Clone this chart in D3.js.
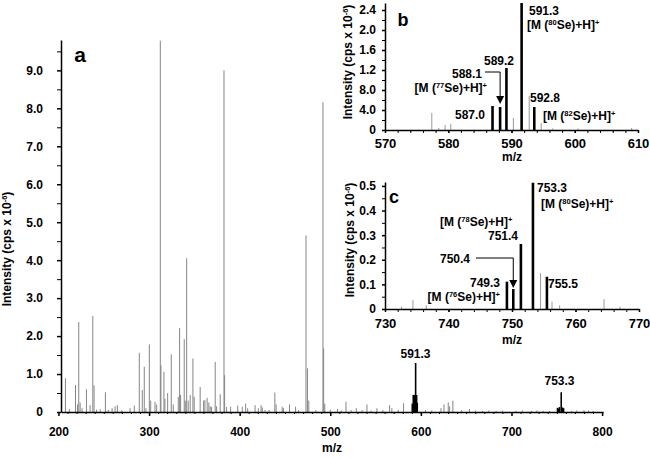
<!DOCTYPE html>
<html>
<head>
<meta charset="utf-8">
<script src="https://cdn.jsdelivr.net/npm/d3@7"></script>
<style>
  body { margin: 0; background: #fff; }
  svg { display: block; font-family: "Liberation Sans", Arial, sans-serif; font-weight: bold; }
</style>
</head>
<body>
<svg id="chart"></svg>
<script>
// ---- data: [m/z, intensity (cps x 10^-6)] ----
// panel a: full spectrum, grey peaks
const mainPeaks = [
  [207.7, 0.89], [212, 0.08], [218.8, 0.71], [221.0, 0.2], [222.4, 2.37], [223.9, 0.25],
  [226, 0.1], [230.9, 0.6], [234.9, 0.18], [237.9, 2.53], [239.3, 0.7], [242, 0.06],
  [246, 0.07], [251.8, 0.52], [255, 0.06], [259.2, 0.1], [262.5, 0.15], [265, 0.18],
  [270, 0.05], [279, 0.1], [283.7, 0.17], [289.2, 1.56], [292.5, 0.58], [294.7, 1.19],
  [296.6, 0.1], [300.3, 1.78], [301.8, 0.3], [306.5, 0.27], [308.4, 0.2], [312.4, 9.78],
  [313.1, 1.23], [316.4, 1.06], [317.5, 0.35], [320.5, 0.5], [324.5, 1.52], [326.7, 0.2],
  [332.2, 0.4], [333.7, 2.21], [334.8, 0.45], [338.8, 1.92], [339.9, 0.3], [341.5, 4.05],
  [343.2, 0.3], [345.4, 0.45], [348.4, 1.41], [349.8, 0.4], [356.4, 0.66], [360.2, 0.3],
  [361.6, 0.32], [364.1, 0.37], [366, 0.25], [367.4, 0.15], [369, 0.13], [373, 1.32],
  [374.5, 0.15], [378.5, 0.47], [382.7, 9.0], [383.4, 0.97], [385.6, 0.13], [390, 0.14],
  [397.8, 0.17], [402.9, 0.14], [406.6, 0.22], [408.8, 0.1], [417, 0.18], [420.6, 0.1],
  [423.6, 0.18], [425, 0.12], [428, 0.05], [432.5, 0.05], [438.8, 0.51], [440.2, 0.2],
  [446.9, 0.14], [448.3, 0.1], [455, 0.2], [461.7, 0.14], [465, 0.05], [473.2, 4.65],
  [474.8, 1.15], [476.3, 0.3], [484, 0.05], [491.9, 8.16], [492.7, 1.67], [493.9, 0.22],
  [500, 0.06], [508, 0.08], [512, 0.04], [517.3, 0.27], [523, 0.05], [528.7, 0.1],
  [535, 0.05], [540.5, 0.2], [545, 0.04], [551.5, 0.1], [558, 0.05], [565.5, 0.18],
  [568, 0.1], [575, 0.06], [580.9, 0.23], [605, 0.05], [612, 0.04], [622.2, 0.1],
  [625.5, 0.2], [630.2, 0.25], [631.7, 0.15], [635.3, 0.3], [645, 0.05], [653.6, 0.08],
  [660, 0.04], [668, 0.03], [675, 0.04], [683, 0.03], [690, 0.04], [705, 0.03],
  [712, 0.04], [722, 0.03], [728, 0.04], [735, 0.03], [742, 0.03], [766, 0.03],
  [772, 0.04], [780, 0.05], [785, 0.04], [790, 0.03]
];
// panel a: Se isotope clusters (black)
const mainCluster591 = [[590.5, 0.22], [591.6, 0.45], [592.7, 0.45], [594.2, 1.29], [595.3, 0.45], [596.0, 0.24]];
const mainCluster753 = [[750.8, 0.11], [752.0, 0.09], [753.0, 0.13], [754.9, 0.52], [756.3, 0.12], [757.5, 0.1]];
const mainXTicks = [200, 300, 400, 500, 600, 700, 800];
const mainYTicks = [0, 1, 2, 3, 4, 5, 6, 7, 8, 9];

// panel b: zoom around 591
const bGrey = [[577.4, 0.34], [578.5, 0.04], [579.5, 0.1], [580.4, 0.12], [590.3, 0.24], [592.8, 0.68], [594.7, 0.14], [596.5, 0.03], [600.5, 0.03], [609, 0.04]];
const bBlack = [[587.0, 0.48], [588.2, 0.46], [589.2, 1.24], [591.6, 2.54], [593.6, 0.46]];
const bXTicks = [570, 580, 590, 600, 610];
const bYTicks = [0, 0.4, 0.8, 1.2, 1.6, 2.0, 2.4];
const bYTickLabels = ["0", "4.0", "8.0", "1.2", "1.6", "2.0", "2.4"];

// panel c: zoom around 753
const cGrey = [[732.6, 0.01], [734.4, 0.037], [736.5, 0.015], [754.5, 0.146], [756.3, 0.03], [757.5, 0.015], [764.5, 0.04], [767, 0.01]];
const cBlack = [[749.2, 0.111], [750.2, 0.081], [751.4, 0.264], [753.3, 0.513], [755.5, 0.131]];
const cXTicks = [730, 740, 750, 760, 770];
const cYTicks = [0, 0.1, 0.2, 0.3, 0.4, 0.5];

const width = 650, height = 458;
const svg = d3.select("#chart").attr("width", width).attr("height", height);

// scales
const xa = d3.scaleLinear().domain([202.8, 801]).range([61, 603]);
const ya = d3.scaleLinear().domain([0, 9.8]).range([412, 40]);
const xb = d3.scaleLinear().domain([570, 610]).range([385, 638]);
const yb = d3.scaleLinear().domain([0, 2.54]).range([130, 3]);
const xc = d3.scaleLinear().domain([730, 770]).range([385, 639]);
const yc = d3.scaleLinear().domain([0, 0.516]).range([309, 182]);

function stems(data, x, y, color, w) {
  svg.append("g").selectAll("line").data(data).enter().append("line")
    .attr("x1", d => x(d[0])).attr("x2", d => x(d[0]))
    .attr("y1", y(0)).attr("y2", d => y(d[1]))
    .attr("stroke", color).attr("stroke-width", w);
}

function styleAxis(g, size) {
  g.attr("font-family", null).attr("font-size", size);
  g.selectAll("path, line").attr("stroke", "#000").attr("stroke-width", 1.5);
  g.selectAll("text").attr("fill", "#000");
}

function minorTicks(axis, y0, vals, len, isY) {
  const g = svg.append("g").attr("transform", isY ? `translate(${y0},0)` : `translate(0,${y0})`)
    .call(axis.tickValues(vals).tickSize(len).tickFormat(""));
  g.select(".domain").remove();
  g.selectAll("line").attr("stroke", "#000").attr("stroke-width", 1);
}

// ---- panel a ----
stems(mainPeaks, xa, ya, "#858585", 1);
stems(mainCluster591, xa, ya, "#000", 1.6);
stems(mainCluster753, xa, ya, "#000", 1.6);

minorTicks(d3.axisBottom(xa), 412, d3.range(210, 801, 10), 2, false);
minorTicks(d3.axisLeft(ya), 61, d3.range(0.5, 9.8, 1), 4, true);
svg.append("g").attr("transform", "translate(0,412)")
  .call(d3.axisBottom(xa).tickValues(mainXTicks).tickSize(4).tickSizeOuter(0).tickPadding(11.5))
  .call(g => styleAxis(g, 12));
svg.append("g").attr("transform", "translate(61,0)")
  .call(d3.axisLeft(ya).tickValues(mainYTicks).tickSize(4).tickSizeOuter(0).tickPadding(14)
    .tickFormat(d => d === 0 ? "0" : d.toFixed(1)))
  .call(g => styleAxis(g, 12));

// ---- panel b ----
stems(bGrey, xb, yb, "#999", 1);
stems(bBlack, xb, yb, "#000", 2.6);
minorTicks(d3.axisBottom(xb), 130, d3.range(572, 610, 2), 3, false);
minorTicks(d3.axisLeft(yb), 385, [0.2, 0.6, 1.0, 1.4, 1.8, 2.2], 3, true);
svg.append("g").attr("transform", "translate(0,130)")
  .call(d3.axisBottom(xb).tickValues(bXTicks).tickSize(3).tickSizeOuter(0).tickPadding(6))
  .call(g => styleAxis(g, 13));
svg.append("g").attr("transform", "translate(385,0)")
  .call(d3.axisLeft(yb).tickValues(bYTicks).tickSize(3).tickSizeOuter(0).tickPadding(6)
    .tickFormat((d, i) => bYTickLabels[i]))
  .call(g => styleAxis(g, 12));

// ---- panel c ----
stems(cGrey, xc, yc, "#999", 1);
stems(cBlack, xc, yc, "#000", 2.6);
minorTicks(d3.axisBottom(xc), 309, d3.range(732, 770, 2), 3, false);
minorTicks(d3.axisLeft(yc), 385, [0.05, 0.15, 0.25, 0.35, 0.45], 3, true);
svg.append("g").attr("transform", "translate(0,309)")
  .call(d3.axisBottom(xc).tickValues(cXTicks).tickSize(3).tickSizeOuter(0).tickPadding(7))
  .call(g => styleAxis(g, 13));
svg.append("g").attr("transform", "translate(385,0)")
  .call(d3.axisLeft(yc).tickValues(cYTicks).tickSize(3).tickSizeOuter(0).tickPadding(6)
    .tickFormat(d => d === 0 ? "0" : d.toFixed(1)))
  .call(g => styleAxis(g, 12));

// ---- text ----
function label(x, y, str, size, anchor) {
  return svg.append("text").attr("x", x).attr("y", y)
    .attr("font-size", size).attr("text-anchor", anchor || "start").text(str);
}

// "[M (xxSe)+H]+" with superscripts
function ionLabel(x, y, mass, anchor) {
  const t = svg.append("text").attr("x", x).attr("y", y)
    .attr("font-size", 12).attr("text-anchor", anchor || "start");
  t.append("tspan").text("[M (");
  t.append("tspan").attr("font-size", 7.5).attr("dy", -4).text(mass);
  t.append("tspan").attr("dy", 4).text("Se)+H]");
  t.append("tspan").attr("font-size", 7.5).attr("dy", -4).text("+");
}

function yTitle(x, y) {
  const t = svg.append("text").attr("transform", `translate(${x},${y}) rotate(-90)`)
    .attr("font-size", 12).attr("text-anchor", "middle");
  t.append("tspan").text("Intensity (cps x 10");
  t.append("tspan").attr("font-size", 7.5).attr("dy", -4).text("-6");
  t.append("tspan").attr("dy", 4).text(")");
}

yTitle(11, 249);
yTitle(352, 62);
yTitle(354, 240);

label(332, 452, "m/z", 12, "middle");
label(512, 161, "m/z", 12, "middle");
label(512, 344, "m/z", 12, "middle");

label(80, 62, "a", 21, "middle");
label(403, 26, "b", 18, "middle");
label(394, 203, "c", 18, "middle");

label(415.5, 358, "591.3", 12, "middle");
label(559.5, 385, "753.3", 12, "middle");

// panel b annotations
label(529, 15, "591.3", 12);
ionLabel(527, 29, "80");
label(499, 65, "589.2", 12, "middle");
label(482, 78, "588.1", 12, "end");
ionLabel(487, 92, "77", "end");
label(485, 119, "587.0", 12, "end");
label(530, 101.5, "592.8", 12);
ionLabel(543, 120, "82");

// panel c annotations
label(537, 192, "753.3", 12);
ionLabel(541, 208, "80");
ionLabel(440, 226, "78");
label(518, 240, "751.4", 12, "end");
label(470, 263, "750.4", 12, "end");
label(500, 287, "749.3", 12, "end");
ionLabel(500, 301, "76", "end");
label(548, 288, "755.5", 12);

// arrows pointing to 588.1 and 750.4
function arrow(x0, yTop, xPeak, yEnd) {
  svg.append("path")
    .attr("d", `M${x0},${yTop}H${xPeak}V${yEnd - 7}`)
    .attr("fill", "none").attr("stroke", "#000").attr("stroke-width", 1);
  svg.append("path")
    .attr("d", `M${xPeak - 4},${yEnd - 8}L${xPeak + 4},${yEnd - 8}L${xPeak},${yEnd}Z`)
    .attr("fill", "#000");
}
arrow(485, 72, xb(588.2), yb(0.46) - 3);
arrow(476, 258, xc(750.2), yc(0.081) - 1);
</script>
</body>
</html>
